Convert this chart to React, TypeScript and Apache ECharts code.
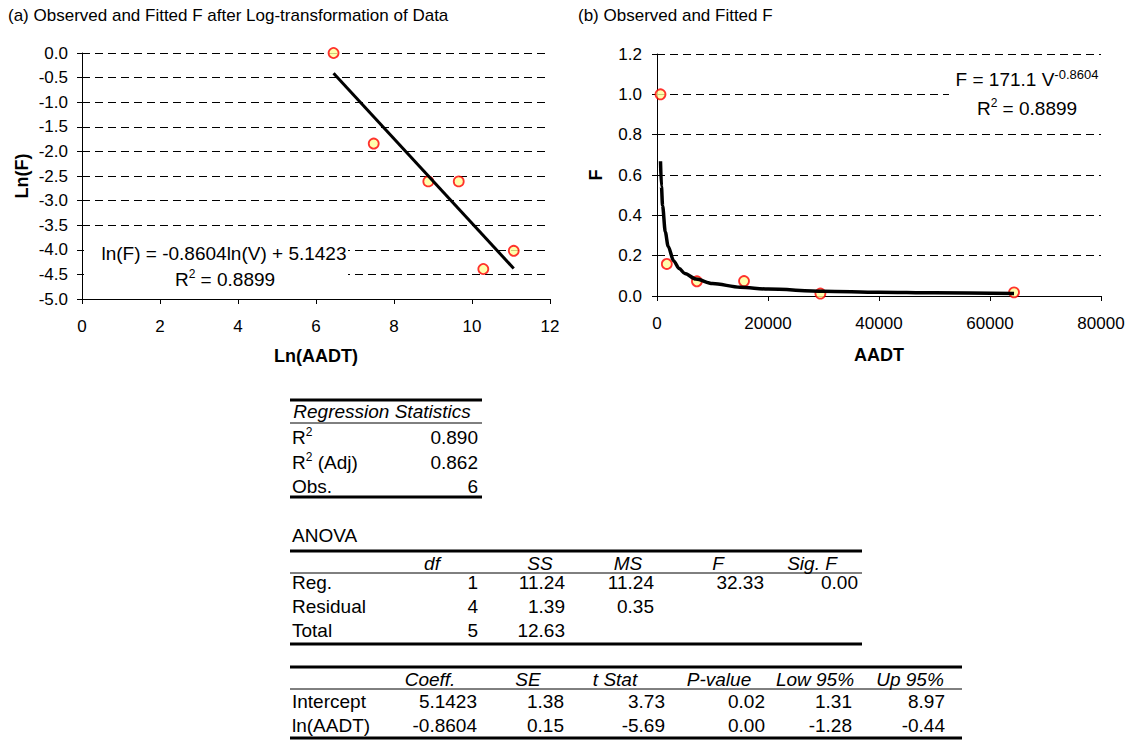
import React, { useEffect, useRef } from 'react';
import * as echarts from 'echarts';

const FONT = '"Liberation Sans", Arial, Helvetica, sans-serif';

// Panel (a): log-transformed observations
const lnAadt = [6.45, 7.48, 8.88, 9.66, 10.29, 11.07];
const lnF = [0.0, -1.84, -2.61, -2.61, -4.39, -4.02];
// fitted straight line end points (ln scale)
const fitLnX = [6.45, 11.07];
const fitLnY = [-0.41, -4.38];

// Panel (b): observations in original units
const aadt = [630, 1770, 7190, 15680, 29440, 64330];
const fObs = [1.0, 0.159, 0.073, 0.074, 0.012, 0.018];
// fitted power curve
const curveV = [630, 800, 1000, 1500, 2000, 3000, 4000, 5000, 7000, 10000, 15000, 20000, 30000, 40000, 50000, 64330];
const curveF = [0.668, 0.544, 0.449, 0.317, 0.247, 0.174, 0.136, 0.112, 0.0841, 0.0619, 0.0437, 0.0341, 0.024, 0.0188, 0.0155, 0.0125];

// Tables
const regStatRows = [
  ['R2', '0.890'],
  ['R2 (Adj)', '0.862'],
  ['Obs.', '6'],
];
const anovaHeaders = ['df', 'SS', 'MS', 'F', 'Sig. F'];
const anovaRows = [
  ['Reg.', '1', '11.24', '11.24', '32.33', '0.00'],
  ['Residual', '4', '1.39', '0.35', '', ''],
  ['Total', '5', '12.63', '', '', ''],
];
const coefHeaders = ['Coeff.', 'SE', 't Stat', 'P-value', 'Low 95%', 'Up 95%'];
const coefRows = [
  ['Intercept', '5.1423', '1.38', '3.73', '0.02', '1.31', '8.97'],
  ['ln(AADT)', '-0.8604', '0.15', '-5.69', '0.00', '-1.28', '-0.44'],
];

const TFS = 19;

function txt(x: number, y: number, text: string, align: string = 'left', extra: any = {}) {
  return {
    type: 'text',
    x,
    y,
    z: 100,
    style: {
      text,
      fontSize: TFS,
      fontFamily: FONT,
      fill: '#000',
      align,
      verticalAlign: 'middle',
      ...extra,
    },
  };
}

function supText(x: number, y: number, base: string, sup: string, rest: string, align: string, fs: number, sfs: number) {
  return {
    type: 'text',
    x,
    y,
    z: 100,
    style: {
      text: `{n|${base}}{s|${sup}}{n|${rest}}`,
      align,
      verticalAlign: 'middle',
      rich: {
        n: { fontSize: fs, fontFamily: FONT, fill: '#000', lineHeight: fs + 4 },
        s: { fontSize: sfs, fontFamily: FONT, fill: '#000', verticalAlign: 'top', lineHeight: sfs },
      },
    },
  };
}

function hline(x1: number, x2: number, y: number, w: number) {
  return {
    type: 'line',
    z: 100,
    shape: { x1, y1: y, x2, y2: y },
    style: { stroke: '#000', lineWidth: w },
  };
}

function whiteRect(x: number, y: number, width: number, height: number) {
  return { type: 'rect', z: 90, shape: { x, y, width, height }, style: { fill: '#fff' } };
}

function buildTables() {
  const g: any[] = [];
  // Regression statistics
  g.push(hline(290, 482, 400, 3));
  g.push(txt(382, 411, 'Regression Statistics', 'center', { fontStyle: 'italic' }));
  g.push(hline(290, 482, 423, 1));
  const rsY = [437, 462, 486];
  regStatRows.forEach((r, i) => {
    if (r[0].startsWith('R2')) {
      g.push(supText(292, rsY[i], 'R', '2', r[0].slice(2), 'left', TFS, 12));
    } else {
      g.push(txt(292, rsY[i], r[0]));
    }
    g.push(txt(478, rsY[i], r[1], 'right'));
  });
  g.push(hline(290, 482, 497, 3));

  // ANOVA
  g.push(txt(292, 535, 'ANOVA'));
  g.push(hline(290, 862, 551, 3));
  const aHead = [432, 540, 628, 718, 812];
  anovaHeaders.forEach((h, i) => g.push(txt(aHead[i], 563, h, 'center', { fontStyle: 'italic' })));
  g.push(hline(290, 862, 573, 1));
  const aRight = [478, 565, 654, 764, 858];
  const aY = [582, 606, 630];
  anovaRows.forEach((r, i) => {
    g.push(txt(292, aY[i], r[0]));
    r.slice(1).forEach((v, j) => {
      if (v) g.push(txt(aRight[j], aY[i], v, 'right'));
    });
  });
  g.push(hline(290, 862, 644, 3));

  // Coefficients
  g.push(hline(290, 962, 667, 3));
  const cHead = [430, 528, 615, 719, 815, 910];
  coefHeaders.forEach((h, i) => g.push(txt(cHead[i], 679, h, 'center', { fontStyle: 'italic' })));
  g.push(hline(290, 962, 689, 1));
  const cRight = [477, 564, 665, 765, 852, 945];
  const cY = [701, 725];
  coefRows.forEach((r, i) => {
    g.push(txt(292, cY[i], r[0]));
    r.slice(1).forEach((v, j) => g.push(txt(cRight[j], cY[i], v, 'right')));
  });
  g.push(hline(290, 962, 738, 3));
  return g;
}

const dashed = { color: '#000', width: 1, type: [8, 5] as any };
const axisLineStyle = { show: true, onZero: false, lineStyle: { color: '#000', width: 1 } };
const tickStyle = { show: true, length: 5, lineStyle: { color: '#000' } };
const labelStyle = { color: '#000', fontSize: 17, fontFamily: FONT };
const nameStyle = { color: '#000', fontSize: 18, fontFamily: FONT, fontWeight: 'bold' as const };

const markerStyle = { color: '#FFFF99', borderColor: '#FF0000', borderWidth: 1.8 };

export default function App() {
  const ref = useRef<HTMLDivElement>(null);
  useEffect(() => {
    const chart = echarts.init(ref.current!, null, { renderer: 'svg' });
    const option: any = {
      animation: false,
      backgroundColor: '#fff',
      grid: [
        { left: 82, top: 53, width: 468, height: 246 },
        { left: 657, top: 54, width: 444, height: 242 },
      ],
      xAxis: [
        {
          gridIndex: 0, type: 'value', min: 0, max: 12, interval: 2,
          axisLine: axisLineStyle, axisTick: tickStyle, splitLine: { show: false },
          axisLabel: { ...labelStyle, margin: 19 },
          name: 'Ln(AADT)', nameLocation: 'middle', nameGap: 48, nameTextStyle: nameStyle,
        },
        {
          gridIndex: 1, type: 'value', min: 0, max: 80000, interval: 20000,
          axisLine: axisLineStyle, axisTick: tickStyle, splitLine: { show: false },
          axisLabel: { ...labelStyle, margin: 19, formatter: (v: number) => String(v) },
          name: 'AADT', nameLocation: 'middle', nameGap: 50, nameTextStyle: nameStyle,
        },
      ],
      yAxis: [
        {
          gridIndex: 0, type: 'value', min: -5, max: 0, interval: 0.5,
          axisLine: axisLineStyle, axisTick: tickStyle,
          splitLine: { show: true, lineStyle: dashed },
          axisLabel: { ...labelStyle, margin: 14, formatter: (v: number) => v.toFixed(1) },
          name: 'Ln(F)', nameLocation: 'middle', nameGap: 51, nameTextStyle: nameStyle,
        },
        {
          gridIndex: 1, type: 'value', min: 0, max: 1.2, interval: 0.2,
          axisLine: axisLineStyle, axisTick: tickStyle,
          splitLine: { show: true, lineStyle: dashed },
          axisLabel: { ...labelStyle, margin: 15, formatter: (v: number) => v.toFixed(1) },
          name: 'F', nameLocation: 'middle', nameGap: 52, nameTextStyle: nameStyle,
        },
      ],
      series: [
        {
          type: 'scatter', xAxisIndex: 0, yAxisIndex: 0, symbol: 'circle', symbolSize: 10,
          itemStyle: markerStyle, z: 3,
          data: lnAadt.map((x, i) => [x, lnF[i]]),
        },
        {
          type: 'line', xAxisIndex: 0, yAxisIndex: 0, symbol: 'none', z: 4,
          lineStyle: { color: '#000', width: 3 },
          data: fitLnX.map((x, i) => [x, fitLnY[i]]),
        },
        {
          type: 'scatter', xAxisIndex: 1, yAxisIndex: 1, symbol: 'circle', symbolSize: 10,
          itemStyle: markerStyle, z: 3,
          data: aadt.map((x, i) => [x, fObs[i]]),
        },
        {
          type: 'line', xAxisIndex: 1, yAxisIndex: 1, symbol: 'none', z: 4,
          smooth: 0.3, smoothMonotone: 'x',
          lineStyle: { color: '#000', width: 3.5 },
          data: curveV.map((x, i) => [x, curveF[i]]),
        },
      ],
      graphic: [
        txt(8, 15, '(a) Observed and Fitted F after Log-transformation of Data', 'left', { fontSize: 17 }),
        txt(578, 15, '(b) Observed and Fitted F', 'left', { fontSize: 17 }),
        whiteRect(84, 240, 264, 50),
        txt(224, 253, 'ln(F) = -0.8604ln(V) + 5.1423', 'center', { fontSize: 19 }),
        supText(225, 279, 'R', '2', ' = 0.8899', 'center', 19, 12),
        whiteRect(949, 62, 154, 60),
        supText(1027, 79, 'F = 171.1 V', '-0.8604', '', 'center', 19, 13),
        supText(1027, 108, 'R', '2', ' = 0.8899', 'center', 19, 12),
        ...buildTables(),
      ],
    };
    chart.setOption(option);
    return () => chart.dispose();
  }, []);
  return (
    <div
      ref={ref}
      style={{ position: 'fixed', left: 0, top: 0, width: 1134, height: 740, background: '#fff' }}
    />
  );
}
